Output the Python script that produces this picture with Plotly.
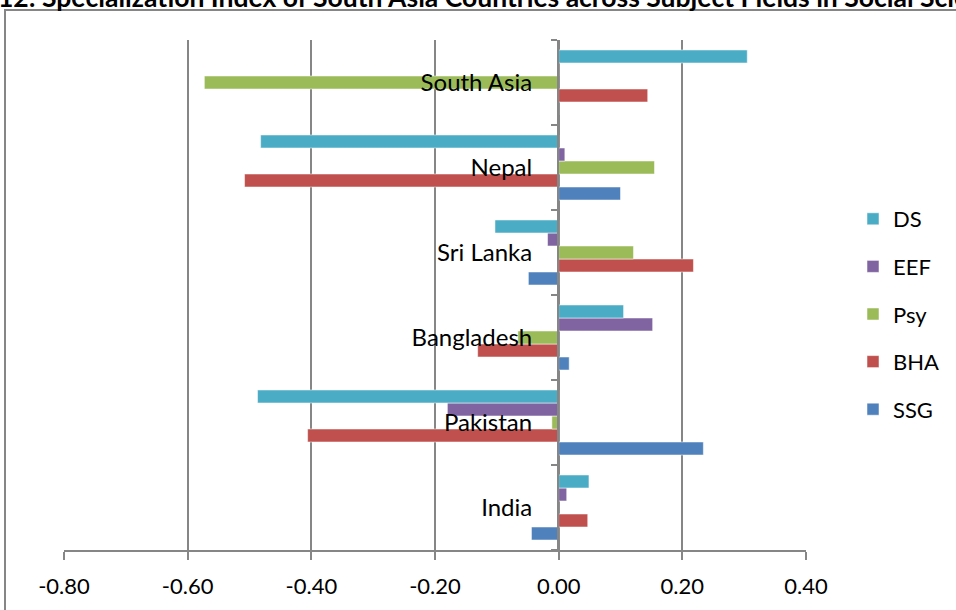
import plotly.graph_objects as go

countries = ["India", "Pakistan", "Bangladesh", "Sri Lanka", "Nepal", "South Asia"]
series_names = ["SSG", "BHA", "Psy", "EEF", "DS"]
SSG = [-0.044, 0.234, 0.017, -0.049, 0.100, -0.002]
BHA = [0.047, -0.406, -0.131, 0.218, -0.508, 0.144]
Psy = [-0.002, -0.011, -0.066, 0.121, 0.155, -0.573]
EEF = [0.013, -0.180, 0.152, -0.018, 0.010, 0.000]
DS = [0.049, -0.487, 0.105, -0.103, -0.482, 0.305]
x_ticks = [-0.8, -0.6, -0.4, -0.2, 0.0, 0.2, 0.4]
x_tick_labels = ["-0.80", "-0.60", "-0.40", "-0.20", "0.00", "0.20", "0.40"]
title_text = "12: Specialization Index of South Asia Countries across Subject Fields in Social Sciences"

colors = {"SSG": "#4F81BD", "BHA": "#C0504D", "Psy": "#9BBB59", "EEF": "#8064A2", "DS": "#4BACC6"}
values = {"SSG": SSG, "BHA": BHA, "Psy": Psy, "EEF": EEF, "DS": DS}

FONT = "Lato"
GRAY = "#868686"

fig = go.Figure()
n = len(series_names)
for i, name in enumerate(series_names):
    fig.add_trace(go.Bar(
        y=countries, x=values[name], orientation="h", name=name,
        legendgroup=name, legendrank=n - i,
        marker=dict(color=colors[name], line=dict(color="rgba(255,255,255,0.5)", width=1)),
    ))

L, R, T, B = 64, 150, 40, 60
W, H = 956, 610
pw, ph = W - L - R, H - T - B

fig.update_layout(
    width=W, height=H,
    margin=dict(l=L, r=R, t=T, b=B, autoexpand=False),
    paper_bgcolor="white", plot_bgcolor="white",
    barmode="group", bargap=0.235, bargroupgap=0,
    font=dict(family=FONT, size=22, color="black"),
    showlegend=True,
    legend=dict(
        x=(853 - L) / pw, y=(H - B - 314) / ph, xanchor="left", yanchor="middle",
        traceorder="grouped", tracegroupgap=16,
        font=dict(family=FONT, size=22, color="black"),
        itemwidth=30, bgcolor="rgba(0,0,0,0)",
    ),
    xaxis=dict(
        range=[-0.8, 0.4], tickvals=x_ticks, ticktext=x_tick_labels,
        showgrid=True, gridcolor=GRAY, gridwidth=2,
        showline=True, linecolor=GRAY, linewidth=2,
        ticks="outside", ticklen=8, tickwidth=2, tickcolor=GRAY,
        ticklabelstandoff=8,
        zeroline=False, fixedrange=True,
        tickfont=dict(family=FONT, size=22, color="black"),
    ),
    yaxis=dict(
        type="category", anchor="free", position=(558 - L) / pw,
        showgrid=False, showline=True, linecolor=GRAY, linewidth=2,
        ticks="outside", tickson="boundaries", ticklen=6, tickwidth=2, tickcolor=GRAY,
        ticklabelstandoff=20,
        tickfont=dict(family=FONT, size=24, color="black"),
        fixedrange=True,
    ),
    shapes=[dict(
        type="rect", xref="paper", yref="paper",
        x0=(5 - L) / pw, x1=(W + 20 - L) / pw,
        y0=(H - B - (H + 20)) / ph, y1=(H - B - 10) / ph,
        line=dict(color=GRAY, width=2), layer="below",
    )],
    annotations=[dict(
        text="<b>" + title_text + "</b>", xref="paper", yref="paper",
        x=(-4 - L) / pw, y=(H - B + 3) / ph, xanchor="left", yanchor="middle",
        showarrow=False, font=dict(family=FONT, size=26.5, color="black"),
    )],
)

fig.write_html(
    "out.html",
    config={"displayModeBar": False},
    post_script="document.body.style.margin='0px';document.body.style.overflow='hidden';",
)
